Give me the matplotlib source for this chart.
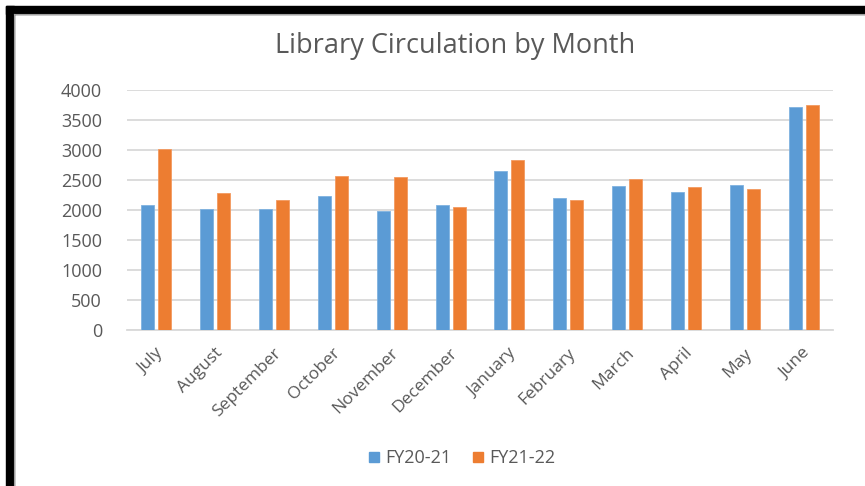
import matplotlib.pyplot as plt
from matplotlib.patches import Rectangle
from matplotlib.lines import Line2D
import numpy as np

months = ['July', 'August', 'September', 'October', 'November', 'December',
          'January', 'February', 'March', 'April', 'May', 'June']
fy20_21 = [2080, 2010, 2010, 2240, 1990, 2080, 2645, 2200, 2395, 2305, 2410, 3715]
fy21_22 = [3010, 2290, 2165, 2575, 2555, 2055, 2830, 2165, 2520, 2380, 2345, 3755]
yticks = [0, 500, 1000, 1500, 2000, 2500, 3000, 3500, 4000]

blue = '#5B9BD5'
orange = '#ED7D31'
grey_txt = '#595959'
plt.rcParams['font.family'] = ['Open Sans', 'DejaVu Sans']

fig = plt.figure(figsize=(8.65, 4.86), dpi=100)
ax = fig.add_axes([127 / 865, 1 - 330 / 486, 706 / 865, 240 / 486])

x = np.arange(len(months))
w = 0.22
ax.bar(x - 0.145, fy20_21, w, color=blue, edgecolor='#7FB2E0', linewidth=0.6, zorder=3)
ax.bar(x + 0.145, fy21_22, w, color=orange, edgecolor='#F39A60', linewidth=0.6, zorder=3)

ax.set_xlim(-0.5, len(months) - 0.5)
ax.set_ylim(0, 4000)
ax.set_yticks(yticks)
ax.set_yticklabels([str(v) for v in yticks])
ax.yaxis.grid(True, color='#D9D9D9', linewidth=1.3, zorder=0)
ax.set_axisbelow(True)
for s in ['top', 'right', 'left']:
    ax.spines[s].set_visible(False)
ax.spines['bottom'].set_color('#D9D9D9')
ax.spines['bottom'].set_linewidth(1.3)
ax.tick_params(axis='y', length=0, pad=18, labelsize=13, labelcolor=grey_txt)
ax.tick_params(axis='x', length=0, pad=11)
ax.set_xticks(x - 0.02)
ax.set_xticklabels(months, rotation=45, ha='right', va='top',
                   rotation_mode='anchor', fontsize=12.5, color=grey_txt)

fig.text(0.526, 1 - 46 / 486, 'Library Circulation by Month', ha='center',
         va='center', fontsize=19.5, color=grey_txt)

handles = [Line2D([], [], marker='s', linestyle='', markersize=7, color=blue),
           Line2D([], [], marker='s', linestyle='', markersize=7, color=orange)]
fig.legend(handles, ['FY20-21', 'FY21-22'], loc='center',
           bbox_to_anchor=(460 / 865, 1 - 458 / 486), ncol=2, frameon=False,
           fontsize=13, labelcolor=grey_txt, handletextpad=0.1,
           columnspacing=1.0, handlelength=1.0)

# black frame from the screenshot (top and left only)
fig.patches.append(Rectangle((6 / 865, 0), 8 / 865, 1 - 6 / 486,
                             transform=fig.transFigure, color='black'))
fig.patches.append(Rectangle((6 / 865, 1 - 14 / 486), 1, 8 / 486,
                             transform=fig.transFigure, color='black'))
fig.lines.append(Line2D([14.5 / 865, 14.5 / 865], [0, 1 - 14 / 486],
                        transform=fig.transFigure, color='#A0A0A0', linewidth=0.8))
fig.lines.append(Line2D([14 / 865, 1], [1 - 14.5 / 486, 1 - 14.5 / 486],
                        transform=fig.transFigure, color='#A0A0A0', linewidth=0.8))

fig.savefig('out.png', dpi=100)
